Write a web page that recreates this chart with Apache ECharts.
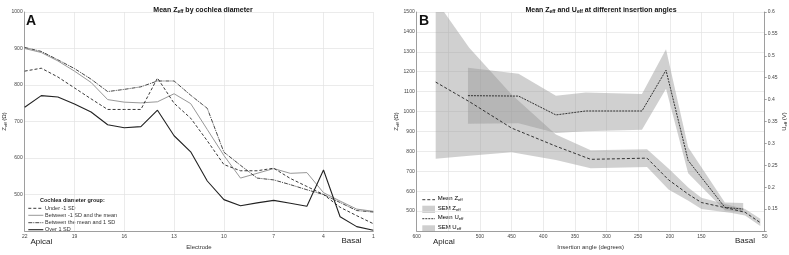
<!DOCTYPE html>
<html><head><meta charset="utf-8">
<script src="https://cdn.jsdelivr.net/npm/echarts@6/dist/echarts.min.js"></script>
<style>html,body{margin:0;padding:0;background:#fff}#c{width:789px;height:255px}</style>
</head><body><div id="c"></div>
<script>
// ---- Panel A data (electrode 22 -> 1) ----
const electrodes = [22,21,20,19,18,17,16,15,14,13,12,11,10,9,8,7,6,5,4,3,2,1];
const underSD    = [838,846,822,792,762,733,733,733,819,750,709,647,582,565,565,572,544,522,500,465,442,420];
const lowMean    = [900,889,866,838,807,760,753,751,754,776,749,678,607,545,558,571,558,560,505,482,460,454];
const meanHigh   = [903,892,869,845,816,782,788,795,811,811,772,736,616,580,545,540,527,513,500,478,456,452];
const overSD     = [739,771,767,748,726,691,683,686,731,661,617,537,486,469,477,484,476,468,567,439,412,402];
const yTicksA = [500,600,700,800,900,1000];
const xTicksA = [22,19,16,13,10,7,4,1];

// ---- Panel B data ----
const zAngles = [570,517,450,380,325,236,202,170,150,102,81,57];
const zMean   = [1148,1050,917,826,760,766,657,583,543,510,494,442];
const zUpper  = [1560,1320,1085,885,805,811,714,616,567,527,510,462];
const zLower  = [763,778,795,757,715,722,608,551,510,491,478,425];
const uAngles = [519,439,380,333,244,206,171,113,84];
const uMean   = [0.409,0.408,0.365,0.374,0.374,0.467,0.261,0.154,0.150];
const uUpper  = [0.473,0.459,0.409,0.416,0.413,0.515,0.291,0.165,0.164];
const uLower  = [0.345,0.346,0.324,0.328,0.331,0.425,0.232,0.147,0.143];
const xTicksB = [600,500,450,400,350,300,250,200,150,50];

const FONT = 'Liberation Sans';
const zip = (xs, ys) => xs.map((x,i)=>[x, ys[i]]);
const chart = echarts.init(document.getElementById('c'), null, {renderer:'canvas'});

function band(xs, up, lo, xi, yi){
  const pts = xs.map((x,i)=>[x, up[i], lo[i]]);
  return {
    type:'custom', xAxisIndex:xi, yAxisIndex:yi, clip:true, z:1,
    data:[0],
    renderItem:(params, api)=>{
      const poly = [];
      pts.forEach(p=>poly.push(api.coord([p[0],p[1]])));
      for(let i=pts.length-1;i>=0;i--) poly.push(api.coord([pts[i][0],pts[i][2]]));
      return {type:'polygon', shape:{points:poly}, style:{fill:'rgba(150,150,150,0.45)', stroke:null}};
    }
  };
}

const subRich = (size)=>({
  n:{fontFamily:FONT,fontSize:size,color:'#222'},
  s:{fontFamily:FONT,fontSize:size*0.7,color:'#222',padding:[size*0.55,0,0,0]},
  b:{fontFamily:FONT,fontSize:size,fontWeight:'bold',color:'#111'},
  bs:{fontFamily:FONT,fontSize:size*0.7,fontWeight:'bold',color:'#111',padding:[size*0.6,0,0,0]}
});

const splitStyle = {show:true, lineStyle:{color:'#e3e3e3', width:0.7}};
const axisLineStyle = {show:true, lineStyle:{color:'#8a8a8a', width:0.8}};
const labelStyle = {fontFamily:FONT, fontSize:5, color:'#444'};

const option = {
  animation:false,
  title:[
    {text:'{b|Mean Z}{bs|eff}{b| by cochlea diameter}', left:198, top:0, textAlign:'center',
     textStyle:{rich:subRich(7)}},
    {text:'{b|Mean Z}{bs|eff}{b| and U}{bs|eff}{b| at different insertion angles}', left:596, top:0, textAlign:'center',
     textStyle:{rich:subRich(7)}}
  ],
  grid:[
    {left:23.3, top:12, width:350, height:225.3},
    {left:416.7, top:12, width:350, height:225.3}
  ],
  xAxis:[
    {gridIndex:0, type:'value', min:1, max:22, interval:3, inverse:true,
     axisLine:axisLineStyle, axisTick:{show:false}, splitLine:splitStyle,
     axisLabel:Object.assign({margin:3}, labelStyle),
     name:'Electrode', nameLocation:'middle', nameGap:13,
     nameTextStyle:{fontFamily:FONT, fontSize:6, color:'#333'}},
    {gridIndex:1, type:'value', min:50, max:600, interval:50, inverse:true,
     axisLine:axisLineStyle, axisTick:{show:false}, splitLine:splitStyle,
     axisLabel:Object.assign({margin:3, formatter:v=> xTicksB.includes(v)? String(v):''}, labelStyle),
     name:'Insertion angle (degrees)', nameLocation:'middle', nameGap:13,
     nameTextStyle:{fontFamily:FONT, fontSize:6, color:'#333'}}
  ],
  yAxis:[
    {gridIndex:0, type:'value', min:400, max:1000, interval:100,
     axisLine:axisLineStyle, axisTick:{show:false}, splitLine:splitStyle,
     axisLabel:Object.assign({margin:2, formatter:v=> yTicksA.includes(v)? String(v):''}, labelStyle),
     name:'{n|Z}{s|eff}{n| (Ω)}', nameLocation:'middle', nameGap:16, nameRotate:90,
     nameTextStyle:{rich:subRich(6)}},
    {gridIndex:1, type:'value', min:400, max:1500, interval:100,
     axisLine:axisLineStyle, axisTick:{show:false}, splitLine:splitStyle,
     axisLabel:Object.assign({margin:2, formatter:v=> v>=500? String(v):''}, labelStyle),
     name:'{n|Z}{s|eff}{n| (Ω)}', nameLocation:'middle', nameGap:16, nameRotate:90,
     nameTextStyle:{rich:subRich(6)}},
    {gridIndex:1, type:'value', min:0.1, max:0.6, interval:0.05, position:'right',
     axisLine:axisLineStyle, axisTick:{show:true, length:2, lineStyle:{color:'#666', width:0.6}},
     splitLine:{show:false},
     axisLabel:Object.assign({margin:3, formatter:v=> v>0.12? String(+v.toFixed(2)):''}, labelStyle),
     name:'{n|U}{s|eff}{n| (V)}', nameLocation:'middle', nameGap:15, nameRotate:90,
     nameTextStyle:{rich:subRich(6)}}
  ],
  series:[
    {type:'line', xAxisIndex:0, yAxisIndex:0, data:zip(electrodes, lowMean), symbol:'none',
     lineStyle:{color:'#8c8c8c', width:0.9}},
    {type:'line', xAxisIndex:0, yAxisIndex:0, data:zip(electrodes, meanHigh), symbol:'none',
     lineStyle:{color:'#333', width:0.9, type:[4,1,1,1]}},
    {type:'line', xAxisIndex:0, yAxisIndex:0, data:zip(electrodes, underSD), symbol:'none',
     lineStyle:{color:'#222', width:0.9, type:[3,2]}},
    {type:'line', xAxisIndex:0, yAxisIndex:0, data:zip(electrodes, overSD), symbol:'none',
     lineStyle:{color:'#222', width:1.1}},
    band(zAngles, zUpper, zLower, 1, 1),
    band(uAngles, uUpper, uLower, 1, 2),
    {type:'line', xAxisIndex:1, yAxisIndex:1, data:zip(zAngles, zMean), symbol:'none', z:3,
     lineStyle:{color:'#222', width:0.9, type:[3,2]}},
    {type:'line', xAxisIndex:1, yAxisIndex:2, data:zip(uAngles, uMean), symbol:'none', z:3,
     lineStyle:{color:'#222', width:0.9, type:[2,1]}}
  ],
  graphic:[
    {type:'text', left:26, top:14, style:{text:'A', font:'bold 14px "Liberation Sans"', fill:'#111'}},
    {type:'text', left:419, top:14, style:{text:'B', font:'bold 14px "Liberation Sans"', fill:'#111'}},
    {type:'text', left:30.5, top:238, style:{text:'Apical', font:'8px "Liberation Sans"', fill:'#222'}},
    {type:'text', left:341.5, top:237, style:{text:'Basal', font:'8px "Liberation Sans"', fill:'#222'}},
    {type:'text', left:433, top:238, style:{text:'Apical', font:'8px "Liberation Sans"', fill:'#222'}},
    {type:'text', left:735, top:237, style:{text:'Basal', font:'8px "Liberation Sans"', fill:'#222'}},
    // Legend A
    {type:'text', left:40, top:197, style:{text:'Cochlea diameter group:', font:'bold 5.5px "Liberation Sans"', fill:'#222'}},
    {type:'line', shape:{x1:28.3,y1:208.3,x2:43.3,y2:208.3}, style:{stroke:'#222', lineWidth:0.9, lineDash:[3,2]}},
    {type:'text', left:45, top:205.5, style:{text:'Under -1 SD', font:'5.5px "Liberation Sans"', fill:'#333'}},
    {type:'line', shape:{x1:28.3,y1:215.3,x2:43.3,y2:215.3}, style:{stroke:'#8c8c8c', lineWidth:0.9}},
    {type:'text', left:45, top:212.5, style:{text:'Between -1 SD and the mean', font:'5.5px "Liberation Sans"', fill:'#333'}},
    {type:'line', shape:{x1:28.3,y1:222.7,x2:43.3,y2:222.7}, style:{stroke:'#333', lineWidth:0.9, lineDash:[4,1,1,1]}},
    {type:'text', left:45, top:219.9, style:{text:'Between the mean and 1 SD', font:'5.5px "Liberation Sans"', fill:'#333'}},
    {type:'line', shape:{x1:28.3,y1:229.7,x2:43.3,y2:229.7}, style:{stroke:'#222', lineWidth:1.1}},
    {type:'text', left:45, top:226.9, style:{text:'Over 1 SD', font:'5.5px "Liberation Sans"', fill:'#333'}},
    // Legend B
    {type:'line', shape:{x1:422.3,y1:199.7,x2:435,y2:199.7}, style:{stroke:'#222', lineWidth:0.9, lineDash:[3,2]}},
    {type:'text', left:437.7, top:195.5, style:{text:'{n|Mean Z}{s|eff}', rich:subRich(6)}},
    {type:'rect', shape:{x:422.3,y:205.7,width:12.7,height:7.3}, style:{fill:'#cfcfcf'}},
    {type:'text', left:437.7, top:205, style:{text:'{n|SEM Z}{s|eff}', rich:subRich(6)}},
    {type:'line', shape:{x1:422.3,y1:218.7,x2:435,y2:218.7}, style:{stroke:'#222', lineWidth:0.9, lineDash:[2,1]}},
    {type:'text', left:437.7, top:214.5, style:{text:'{n|Mean U}{s|eff}', rich:subRich(6)}},
    {type:'rect', shape:{x:422.3,y:225.3,width:12.7,height:6.7}, style:{fill:'#cfcfcf'}},
    {type:'text', left:437.7, top:224.3, style:{text:'{n|SEM U}{s|eff}', rich:subRich(6)}}
  ]
};
chart.setOption(option);
</script></body></html>
